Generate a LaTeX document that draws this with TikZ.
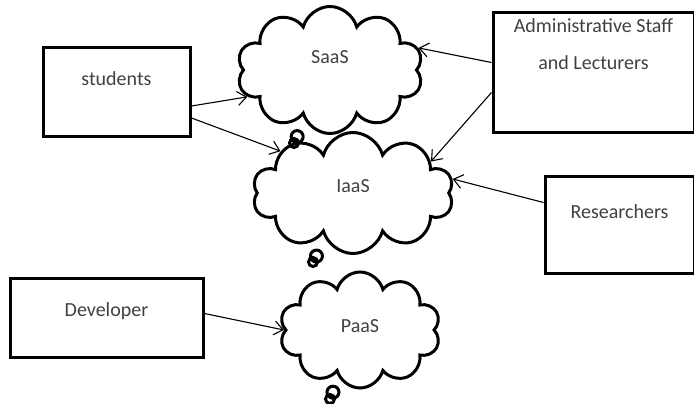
\documentclass[tikz,border=0pt]{standalone}
\usepackage{fontspec}
\setmainfont{Carlito}
\usepackage{tikz}
\usetikzlibrary{arrows.meta,
                positioning,
                shapes.symbols,
                shapes.callouts
                }

\begin{document}
\begin{tikzpicture}[x=1pt, y=-1pt,
    every node/.style={font=\fontsize{20}{24}\selectfont, text=black!75},
    usrbox/.style={draw=black, line width=3pt, align=center, inner sep=0pt},
    svccloud/.style={cloud callout, draw=black, line width=3pt, cloud puffs=10,
        callout pointer start size=15pt, callout pointer end size=9pt,
        callout pointer segments=2, inner sep=0pt},
    link/.style={-{Straight Barb[length=9pt, width=14pt]}, line width=1.1pt}]
            \useasboundingbox (0,0) rectangle (694,404);

            %user boxes
            \node[usrbox, minimum width=147pt, minimum height=88pt, text height=14pt, text depth=26pt]
                (stud) at (116.5,92) {students};
            \node[usrbox, minimum width=201pt, minimum height=119pt, text height=14pt, text depth=20pt]
                (admin) at (593.5,72.5) {Administrative Staff\\[13pt]and Lecturers};
            \node[usrbox, minimum width=149pt, minimum height=97pt, text height=14pt, text depth=27pt]
                (res) at (619.5,224.5) {Researchers};
            \node[usrbox, minimum width=193pt, minimum height=79pt, text height=14pt, text depth=17pt]
                (dev) at (106.5,317.5) {Developer};

            %service clouds
            \node[svccloud, minimum width=186pt, minimum height=127pt, text height=14pt, text depth=26pt,
                callout absolute pointer={(294,143)}] (saas) at (330,70) {SaaS};
            \node[svccloud, minimum width=201pt, minimum height=121pt, text height=14pt, text depth=16pt,
                callout absolute pointer={(313,262)}] (iaas) at (353,193) {IaaS};
            \node[svccloud, minimum width=161pt, minimum height=116pt, text height=14pt, text depth=10pt,
                callout absolute pointer={(330,399)}] (paas) at (360,330) {PaaS};

            %arrows
            \draw[link] ([yshift=-14pt]stud.east) -- (saas.198);
            \draw[link] ([yshift=-26pt]stud.east) -- (iaas.150);
            \draw[link] ([yshift=10pt]admin.west) -- (saas.14);
            \draw[link] ([yshift=-20pt]admin.west) -- (iaas.22);
            \draw[link] ([yshift=22pt]res.west) -- (iaas.8);
            \draw[link] ([yshift=4pt]dev.east) -- (paas.180);
\end{tikzpicture}
\end{document}
